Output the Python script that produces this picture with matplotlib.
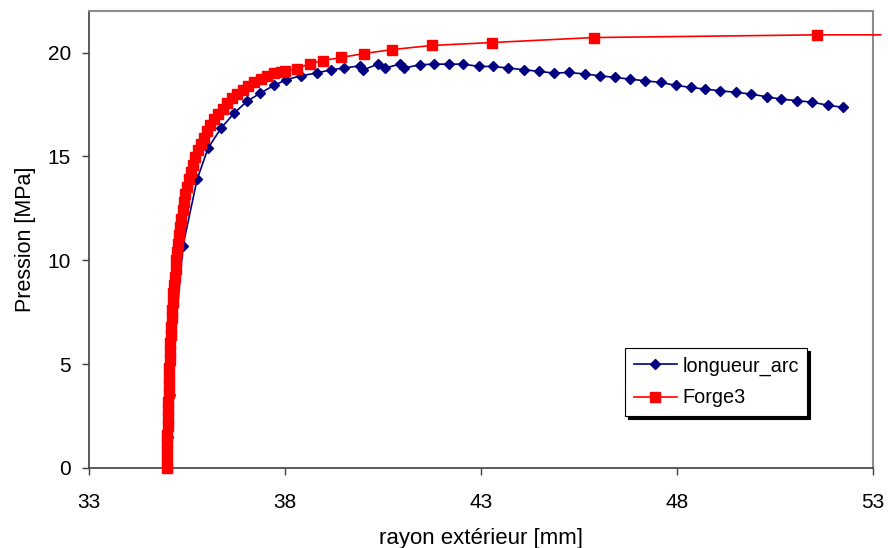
import matplotlib.pyplot as plt
import numpy as np

plt.rcParams['font.family'] = ['Liberation Sans', 'DejaVu Sans']

# longueur_arc (blue diamonds)
arc_x = [35.00, 35.02, 35.06, 35.40, 35.76, 36.04, 36.37, 36.70, 37.03, 37.36, 37.72,
         38.04, 38.40, 38.81, 39.17, 39.51, 39.91, 40.00, 40.38, 40.55, 40.93, 41.04,
         41.44, 41.80, 42.19, 42.55, 42.95, 43.31, 43.70, 44.10, 44.49, 44.86, 45.25,
         45.67, 46.04, 46.42, 46.80, 47.18, 47.59, 47.97, 48.35, 48.71, 49.10, 49.52,
         49.89, 50.29, 50.65, 51.07, 51.45, 51.86, 52.24]
arc_y = [0.00, 1.50, 3.50, 10.70, 13.90, 15.40, 16.36, 17.07, 17.65, 18.03, 18.42,
         18.69, 18.88, 19.01, 19.17, 19.25, 19.36, 19.17, 19.44, 19.25, 19.44, 19.25,
         19.41, 19.44, 19.44, 19.44, 19.33, 19.33, 19.25, 19.17, 19.09, 19.01, 19.04,
         18.96, 18.88, 18.80, 18.72, 18.64, 18.56, 18.42, 18.32, 18.24, 18.16, 18.08,
         18.00, 17.87, 17.76, 17.68, 17.61, 17.46, 17.36]

# Forge3 (red squares)
forge_x = [34.98, 34.99, 34.99, 35.00, 35.00, 35.01, 35.01, 35.02, 35.02, 35.03,
           35.04, 35.04, 35.05, 35.06, 35.07, 35.08, 35.09, 35.10, 35.11, 35.12,
           35.14, 35.15, 35.17, 35.19, 35.21, 35.23, 35.25, 35.28, 35.30, 35.33,
           35.36, 35.39, 35.42, 35.46, 35.50, 35.55, 35.60, 35.65, 35.71, 35.78,
           35.85, 35.93, 36.01, 36.10, 36.20, 36.30, 36.41, 36.53, 36.65, 36.78,
           36.92, 37.07, 37.22, 37.38, 37.55, 37.72, 37.90, 38.00, 38.31, 38.64,
           38.97, 39.43, 40.02, 40.73, 41.75, 43.28, 45.88, 51.59, 53.20]
forge_y = [0.00, 0.40, 0.80, 1.20, 1.60, 2.00, 2.40, 2.80, 3.20, 3.60,
           4.00, 4.40, 4.80, 5.20, 5.60, 6.00, 6.40, 6.80, 7.20, 7.60,
           8.00, 8.40, 8.80, 9.20, 9.60, 10.00, 10.40, 10.80, 11.20, 11.60,
           12.00, 12.40, 12.80, 13.20, 13.55, 13.90, 14.25, 14.60, 14.95, 15.30,
           15.60, 15.90, 16.20, 16.50, 16.80, 17.05, 17.30, 17.55, 17.80, 18.00,
           18.20, 18.40, 18.58, 18.74, 18.88, 19.00, 19.08, 19.09, 19.23, 19.47,
           19.61, 19.76, 19.95, 20.14, 20.34, 20.48, 20.72, 20.85, 20.85]

xticks = [33, 38, 43, 48, 53]
yticks = [0, 5, 10, 15, 20]

fig = plt.figure(figsize=(8.88, 5.48), dpi=100)
ax = fig.add_axes([0.1002, 0.146, 0.8826, 0.834])

ax.plot(arc_x, arc_y, color='#000080', lw=1.2, marker='D', ms=5.5,
        label='longueur_arc', zorder=2)
ax.plot(forge_x, forge_y, color='#ff0000', lw=1.2, marker='s', ms=6.8,
        markevery=list(range(len(forge_x) - 1)), label='Forge3', zorder=3,
        clip_on=False)

ax.set_xlim(33, 53)
ax.set_ylim(0, 22)
ax.set_xticks(xticks)
ax.set_yticks(yticks)
ax.tick_params(axis='x', direction='out', length=5, width=1, pad=13,
               labelsize=15, color='#404040')
ax.tick_params(axis='y', direction='out', length=5, width=1, pad=8,
               labelsize=15, color='#404040')

for s in ['left', 'bottom']:
    ax.spines[s].set_color('#404040')
    ax.spines[s].set_linewidth(1.2)
for s in ['top', 'right']:
    ax.spines[s].set_color('#8c8c8c')
    ax.spines[s].set_linewidth(1.5)

ax.set_xlabel('rayon extérieur [mm]', fontsize=16, labelpad=11.5)
ax.set_ylabel('Pression [MPa]', fontsize=15.5, labelpad=8.5)

leg = ax.legend(loc='upper left', bbox_to_anchor=(0.684, 0.263), borderaxespad=0,
                fontsize=14.3, fancybox=False, edgecolor='black', framealpha=1,
                shadow={'color': 'black', 'alpha': 1}, handlelength=2.2,
                handletextpad=0.25, labelspacing=0.65, borderpad=0.43)
leg.get_frame().set_linewidth(0.8)

fig.savefig('out.png', dpi=100)
